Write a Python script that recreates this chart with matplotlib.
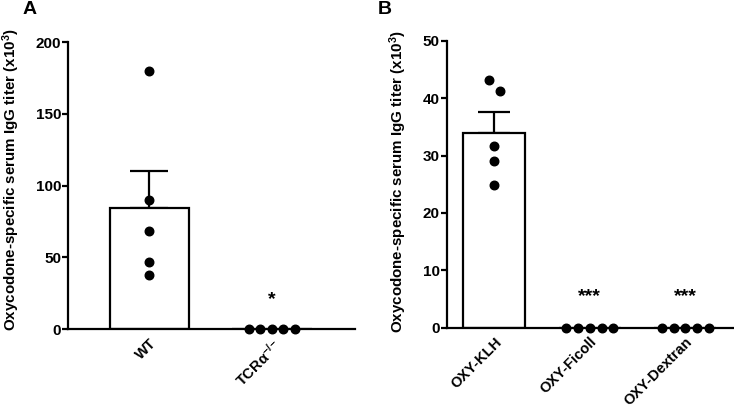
import numpy as np
import matplotlib
matplotlib.use("Agg")
import matplotlib.pyplot as plt

plt.rcParams['font.family'] = ['Liberation Sans', 'DejaVu Sans']
plt.rcParams['font.weight'] = 'bold'
plt.rcParams['mathtext.fontset'] = 'custom'
plt.rcParams['mathtext.rm'] = 'Liberation Sans:bold'
plt.rcParams['mathtext.it'] = 'Liberation Sans:bold'
plt.rcParams['mathtext.bf'] = 'Liberation Sans:bold'

# panel A data (x10^3)
groups_a = ['WT', 'TCRα$^{-/-}$']
wt = [179.8, 89.9, 68.5, 46.9, 37.6]
tcr = [0, 0, 0, 0, 0]
stars_a = ['', '*']
star_y_a = 20.5

# panel B data (x10^3)
groups_b = ['OXY-KLH', 'OXY-Ficoll', 'OXY-Dextran']
klh = [43.15, 41.3, 31.7, 29.0, 24.9]
ficoll = [0, 0, 0, 0, 0]
dextran = [0, 0, 0, 0, 0]
stars_b = ['', '***', '***']
star_y_b = 5.4

ylabel = 'Oxycodone-specific serum IgG titer (x10$^3$)'


def mean_sem(v):
    v = np.asarray(v, dtype=float)
    return v.mean(), v.std(ddof=1) / np.sqrt(len(v))


def draw_panel(ax, names, data, stars, star_y, ymax, ystep, xlim, spread, capsize):
    x = np.arange(len(names))
    for i, vals in enumerate(data):
        m, s = mean_sem(vals)
        ax.bar(i, m, width=0.65, color='white', edgecolor='black', linewidth=1.6, zorder=2)
        if m > 0:
            ax.errorbar(i, m, yerr=[[0], [s]], color='black', capsize=capsize,
                        elinewidth=1.6, capthick=1.6, zorder=1)
        vals = np.asarray(vals)
        if np.all(vals == 0):
            offs = (np.arange(len(vals)) - (len(vals) - 1) / 2) * spread
        else:
            offs = np.zeros(len(vals))
            # spread the two top points that overlap
            order = np.argsort(vals)[::-1]
            if vals[order[0]] - vals[order[1]] < ystep * 0.5:
                offs[order[0]] = -spread / 2
                offs[order[1]] = spread / 2
        ax.scatter(i + offs, vals, s=38, color='black', zorder=4, clip_on=False)
        if stars[i]:
            ax.text(i, star_y, stars[i], ha='center', va='center', fontsize=14, fontweight='bold')
    ax.set_xlim(*xlim)
    ax.set_ylim(0, ymax)
    ax.set_yticks(np.arange(0, ymax + 1, ystep))
    ax.set_xticks(x)
    ax.set_xticklabels(names, rotation=45, ha='right', va='top', rotation_mode='anchor')
    ax.tick_params(axis='x', length=0, pad=5, labelsize=10.5)
    ax.tick_params(axis='y', length=4, width=1.6, pad=1, labelsize=11)
    for sp in ['top', 'right']:
        ax.spines[sp].set_visible(False)
    for sp in ['left', 'bottom']:
        ax.spines[sp].set_linewidth(1.6)
    ax.set_ylabel(ylabel, fontsize=10.9, fontweight='bold')


fig = plt.figure(figsize=(7.34, 4.07), dpi=100)
ax_a = fig.add_axes([0.0926, 0.1916, 0.391, 0.7052])
ax_b = fig.add_axes([0.6086, 0.1949, 0.39, 0.7044])

draw_panel(ax_a, groups_a, [wt, tcr], stars_a, star_y_a, 200, 50,
           (-0.665, 1.678), 0.094, 14)
draw_panel(ax_b, groups_b, [klh, ficoll, dextran], stars_b, star_y_b, 50, 10,
           (-0.5, 2.5), 0.123, 11.5)

ax_a.yaxis.set_label_coords(-0.16, 0.519)
ax_b.yaxis.set_label_coords(-0.132, 0.508)

fig.text(30 / 734, 1 - 10 / 407, 'A', fontsize=14, fontweight='bold', ha='center', va='center')
fig.text(385 / 734, 1 - 10 / 407, 'B', fontsize=14, fontweight='bold', ha='center', va='center')

fig.savefig('out.png', dpi=100)
